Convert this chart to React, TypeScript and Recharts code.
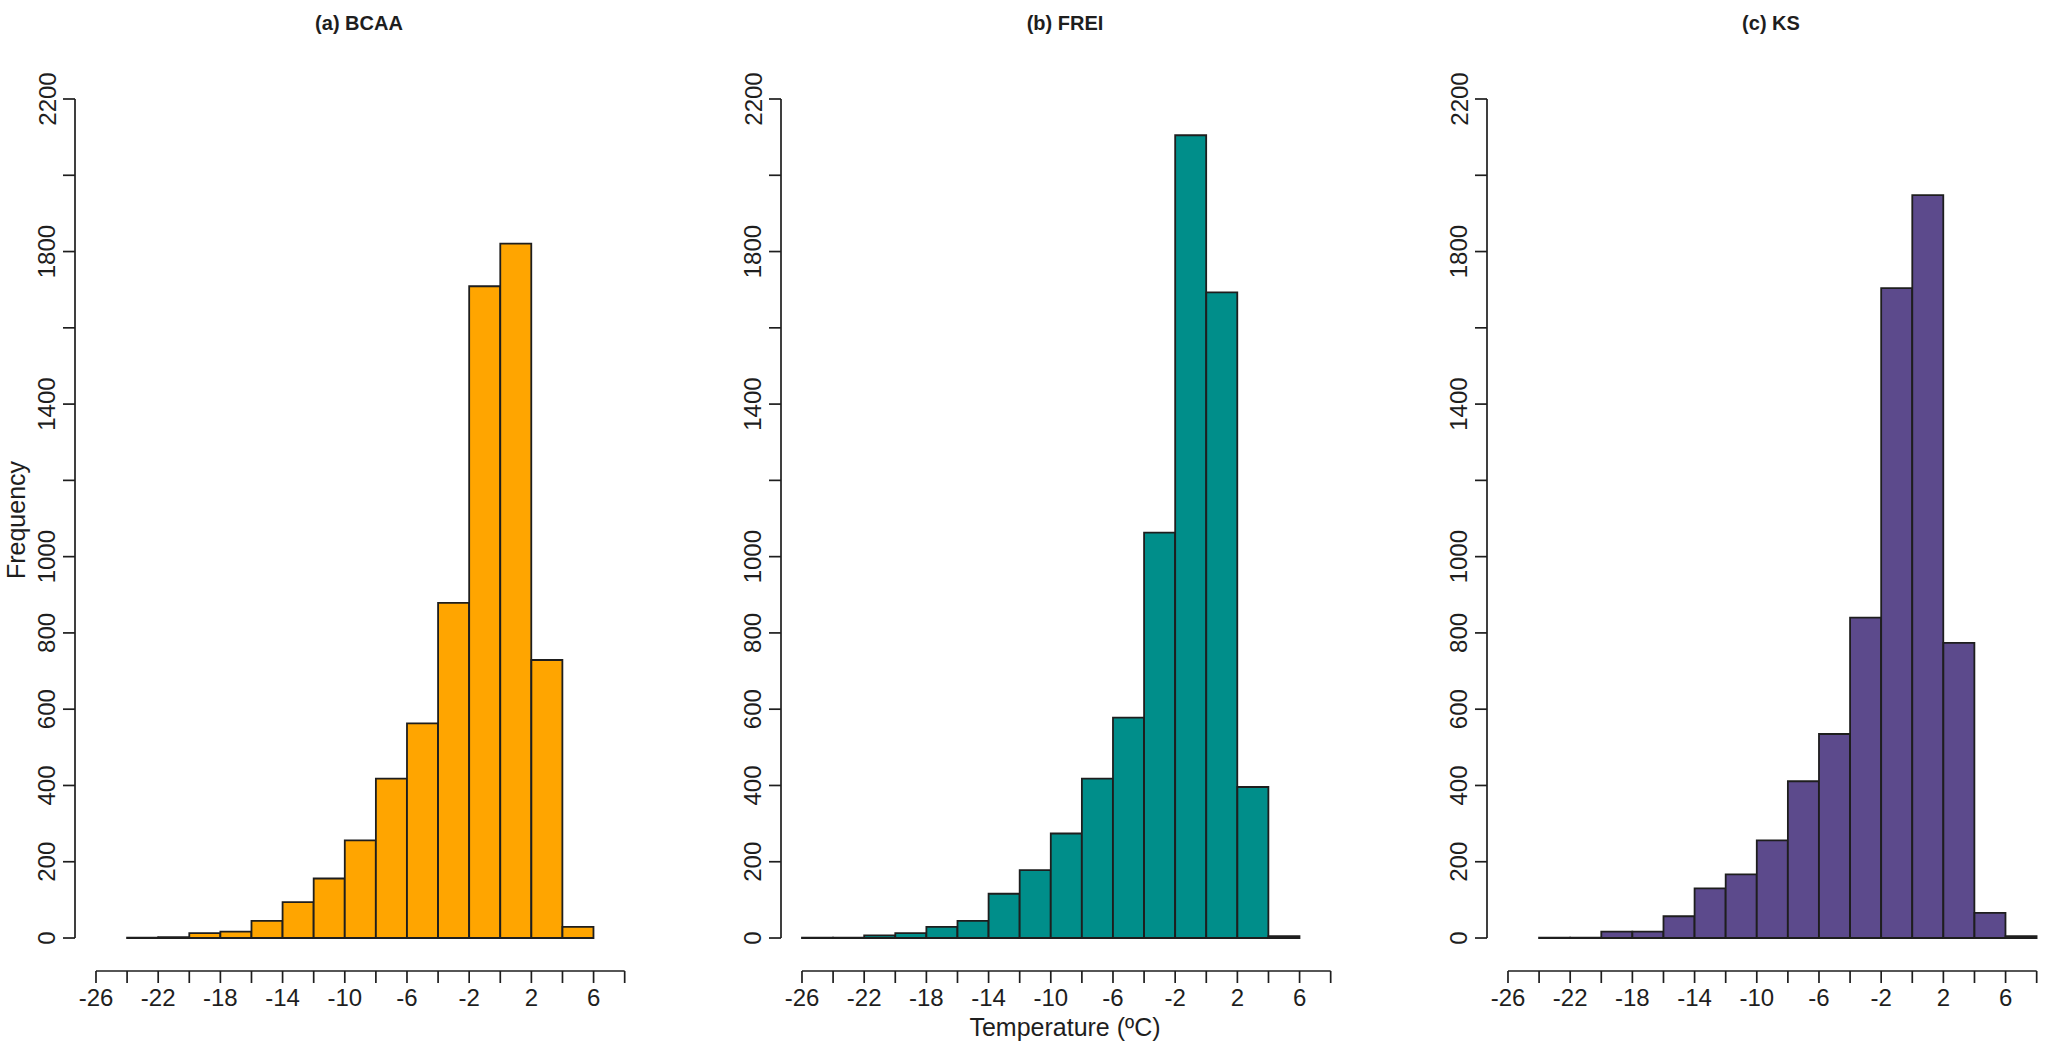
import React from 'react';
import { BarChart, Bar, XAxis, YAxis, ReferenceLine } from 'recharts';

// bin centres (bins are 2 °C wide) and counts
const bcaaBins = [-23, -21, -19, -17, -15, -13, -11, -9, -7, -5, -3, -1, 1, 3, 5];
const bcaaCounts = [1, 2, 13, 17, 45, 94, 156, 256, 418, 563, 879, 1709, 1821, 729, 29];

const freiBins = [-25, -23, -21, -19, -17, -15, -13, -11, -9, -7, -5, -3, -1, 1, 3, 5];
const freiCounts = [1, 1, 7, 13, 29, 45, 116, 178, 274, 418, 578, 1063, 2105, 1693, 396, 5];

const ksBins = [-23, -21, -19, -17, -15, -13, -11, -9, -7, -5, -3, -1, 1, 3, 5, 7];
const ksCounts = [1, 1, 17, 17, 57, 130, 167, 256, 411, 535, 840, 1704, 1948, 774, 66, 5];

const xTicks = [-26, -24, -22, -20, -18, -16, -14, -12, -10, -8, -6, -4, -2, 0, 2, 4, 6, 8];
const xLabels = [-26, -22, -18, -14, -10, -6, -2, 2, 6];
const yTicks = [0, 200, 400, 600, 800, 1000, 1200, 1400, 1600, 1800, 2000, 2200];
const yLabels = [0, 200, 400, 600, 800, 1000, 1400, 1800, 2200];

const PANEL_W = 706;
const CHART_H = 1045;
const X_MIN = -27.35;
const X_MAX = 9.5;
const Y_MIN = -86.5;
const Y_MAX = 2200;

const FONT = '"Liberation Sans", Arial, sans-serif';
const INK = '#1e1e1e';
const TICK_FS = 24;

const XTick = ({ x, y, payload }: any) => {
  if (!xLabels.includes(payload.value)) return null;
  return (
    <text x={x} y={y + 21} textAnchor="middle" fontSize={TICK_FS} fontFamily={FONT} fill={INK}>
      {payload.value}
    </text>
  );
};

const YTick = ({ x, y, payload }: any) => {
  if (!yLabels.includes(payload.value)) return null;
  const cx = x - 14;
  return (
    <text
      x={cx}
      y={y}
      transform={`rotate(-90, ${cx}, ${y})`}
      textAnchor="middle"
      dominantBaseline="central"
      fontSize={TICK_FS}
      fontFamily={FONT}
      fill={INK}
    >
      {payload.value}
    </text>
  );
};

interface PanelProps {
  bins: number[];
  counts: number[];
  fill: string;
  left: number;
}

const Panel: React.FC<PanelProps> = ({ bins, counts, fill, left }) => {
  const data = bins.map((mid, i) => ({ mid, count: counts[i] }));
  return (
    <div style={{ position: 'absolute', left, top: 0, width: PANEL_W, height: CHART_H }}>
      <BarChart
        width={PANEL_W}
        height={CHART_H}
        data={data}
        margin={{ top: 99, right: 58, bottom: 0, left: 0 }}
        barCategoryGap={0}
        barGap={0}
      >
        <XAxis
          type="number"
          dataKey="mid"
          domain={[X_MIN, X_MAX]}
          allowDataOverflow
          ticks={xTicks}
          interval={0}
          axisLine={false}
          tickLine={{ stroke: INK, strokeWidth: 1.7 }}
          tickSize={12}
          height={74}
          tick={<XTick />}
        />
        <YAxis
          type="number"
          domain={[Y_MIN, Y_MAX]}
          allowDataOverflow
          ticks={yTicks}
          interval={0}
          axisLine={false}
          tickLine={{ stroke: INK, strokeWidth: 1.7 }}
          tickSize={12}
          width={75}
          tick={<YTick />}
        />
        <ReferenceLine
          segment={[{ x: X_MIN, y: 0 }, { x: X_MIN, y: Y_MAX }]}
          stroke={INK}
          strokeWidth={1.7}
          ifOverflow="visible"
        />
        <ReferenceLine
          segment={[{ x: xTicks[0], y: Y_MIN }, { x: xTicks[xTicks.length - 1], y: Y_MIN }]}
          stroke={INK}
          strokeWidth={1.7}
          ifOverflow="visible"
        />
        <Bar dataKey="count" fill={fill} stroke={INK} strokeWidth={1.8} isAnimationActive={false} />
      </BarChart>
    </div>
  );
};

const App: React.FC = () => {
  return (
    <div style={{ position: 'absolute', left: 0, top: 0, width: 2050, height: 1045, background: '#fff' }}>
      <Panel bins={bcaaBins} counts={bcaaCounts} fill="#FFA500" left={0} />
      <Panel bins={freiBins} counts={freiCounts} fill="#008E8A" left={706} />
      <Panel bins={ksBins} counts={ksCounts} fill="#5C4A8C" left={1412} />
      <svg
        width={2050}
        height={1045}
        style={{ position: 'absolute', left: 0, top: 0, pointerEvents: 'none' }}
        fontFamily={FONT}
        fill={INK}
      >
        <text x={359} y={30} textAnchor="middle" fontSize={20} fontWeight="bold">(a) BCAA</text>
        <text x={1065} y={30} textAnchor="middle" fontSize={20} fontWeight="bold">(b) FREI</text>
        <text x={1771} y={30} textAnchor="middle" fontSize={20} fontWeight="bold">(c) KS</text>
        <text x={1065} y={1036} textAnchor="middle" fontSize={25}>Temperature (ºC)</text>
        <text x={16} y={520} transform="rotate(-90, 16, 520)" textAnchor="middle" dominantBaseline="central" fontSize={25}>
          Frequency
        </text>
      </svg>
    </div>
  );
};

export default App;
